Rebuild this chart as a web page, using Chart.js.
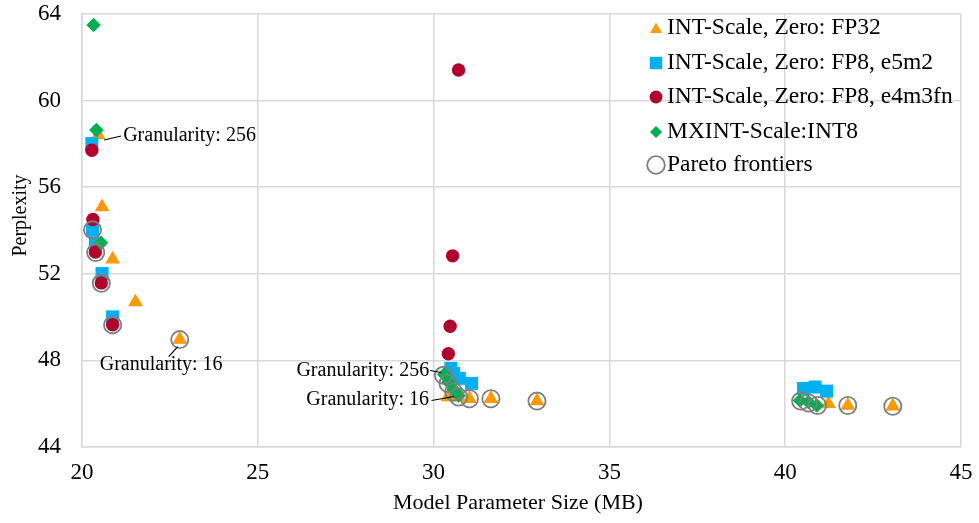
<!DOCTYPE html>
<html>
<head>
<meta charset="utf-8">
<title>Perplexity vs Model Parameter Size</title>
<script src="https://cdn.jsdelivr.net/npm/chart.js@4/dist/chart.umd.min.js"></script>
<style>
  html, body { margin: 0; padding: 0; background: #ffffff; }
  canvas { display: block; }
</style>
</head>
<body>
<canvas id="chart" width="979" height="523"></canvas>
<script>
// ---- data -------------------------------------------------------------
const seriesNames = [
  'INT-Scale, Zero: FP32',
  'INT-Scale, Zero: FP8, e5m2',
  'INT-Scale, Zero: FP8, e4m3fn',
  'MXINT-Scale:INT8',
  'Pareto frontiers'
];

const fp32X = [20.46, 20.57, 20.87, 21.52, 22.78, 30.41, 30.70, 31.02, 31.63, 32.94, 41.23, 41.78, 43.06];
const fp32Y = [58.41, 55.09, 52.67, 50.70, 48.96, 46.31, 46.30, 46.23, 46.23, 46.12, 46.00, 45.92, 45.88];

const e5m2X = [20.28, 20.30, 20.38, 20.57, 20.87, 30.49, 30.57, 30.73, 31.08, 40.52, 40.85, 41.18];
const e5m2Y = [58.02, 54.01, 53.41, 52.01, 50.01, 47.63, 47.40, 47.17, 46.94, 46.70, 46.77, 46.58];

const e4m3X = [20.28, 20.31, 20.38, 20.55, 20.87, 30.71, 30.54, 30.47, 30.42];
const e4m3Y = [57.71, 54.51, 53.01, 51.58, 49.65, 61.41, 52.83, 49.58, 48.31];

const mxintX = [20.33, 20.41, 20.54, 30.30, 30.42, 30.57, 30.71, 40.42, 40.66, 40.90];
const mxintY = [63.49, 58.64, 53.43, 47.35, 47.00, 46.65, 46.38, 46.15, 46.08, 45.92];

const paretoX = [20.30, 20.39, 20.55, 20.87, 22.78, 30.28, 30.41, 30.57, 30.71, 31.02, 31.63, 32.94, 40.44, 40.66, 40.92, 41.78, 43.06];
const paretoY = [54.03, 52.98, 51.56, 49.64, 48.96, 47.31, 46.93, 46.54, 46.31, 46.23, 46.23, 46.12, 46.12, 46.03, 45.92, 45.92, 45.88];

const xTicks = [20, 25, 30, 35, 40, 45];
const yTicks = [44, 48, 52, 56, 60, 64];

// callouts: label text and the data point each leader line points at
const calloutText = ['Granularity: 256', 'Granularity: 16', 'Granularity: 256', 'Granularity: 16'];
const calloutX = [20.46, 22.78, 30.30, 30.71];
const calloutY = [58.41, 48.96, 47.35, 46.38];

const xTitle = 'Model Parameter Size (MB)';
const yTitle = 'Perplexity';

// ---- styling -----------------------------------------------------------
const FONT = '"Liberation Serif", "Times New Roman", "DejaVu Serif", serif';
const GRID = '#d9d9d9';
const styles = [
  { color: '#ff9900', pointStyle: 'triangle', radius: 8.5, legendRadius: 6.8 },
  { color: '#00b0f0', pointStyle: 'rect', radius: 9.2, legendRadius: 8.8 },
  { color: '#b4002d', pointStyle: 'circle', radius: 6.7, legendRadius: 6.4 },
  { color: '#00b050', pointStyle: 'rectRot', radius: 7.3, legendRadius: 6.0 },
  { color: '#7f7f7f', pointStyle: 'circle', radius: 8.6, legendRadius: 8.8, hollow: true }
];

// pixel placement of each callout relative to its anchor point
const calloutLayout = [
  { l0: [6, 5], l1: [23, 1], t: [25, 1], align: 'left' },
  { l0: [-2, 7], l1: [-11, 17], t: [-80, 25], align: 'left' },
  { l0: [-14, -4], l1: [-3, -2], t: [-15, -4], align: 'right' },
  { l0: [-27, 5], l1: [-4.5, 1], t: [-29.5, 4], align: 'right' }
];

function toPoints(xs, ys) {
  return xs.map((x, i) => ({ x: x, y: ys[i] }));
}

const seriesX = [fp32X, e5m2X, e4m3X, mxintX, paretoX];
const seriesY = [fp32Y, e5m2Y, e4m3Y, mxintY, paretoY];

const datasets = seriesNames.map((name, i) => {
  const s = styles[i];
  return {
    label: name,
    data: toPoints(seriesX[i], seriesY[i]),
    pointStyle: s.pointStyle,
    pointRadius: s.radius,
    pointHoverRadius: s.radius,
    backgroundColor: s.hollow ? 'rgba(0,0,0,0)' : s.color,
    borderColor: s.color,
    borderWidth: s.hollow ? 1.8 : 0,
    // later series sit on top of earlier ones
    order: seriesNames.length - i
  };
});

function drawMarker(ctx, s, x, y, r) {
  ctx.save();
  ctx.fillStyle = s.hollow ? 'rgba(0,0,0,0)' : s.color;
  ctx.strokeStyle = s.color;
  ctx.lineWidth = s.hollow ? 1.8 : 0;
  if (Chart.helpers && Chart.helpers.drawPoint) {
    Chart.helpers.drawPoint(ctx, { pointStyle: s.pointStyle, radius: r, rotation: 0, borderWidth: s.hollow ? 1.8 : 0 }, x, y);
  } else {
    ctx.beginPath();
    ctx.arc(x, y, r, 0, Math.PI * 2);
    ctx.fill();
    if (s.hollow) ctx.stroke();
  }
  ctx.restore();
}

const overlayPlugin = {
  id: 'overlay',
  afterDraw(chart) {
    const ctx = chart.ctx;
    const xs = chart.scales.x;
    const ys = chart.scales.y;
    ctx.save();

    // axis titles
    ctx.fillStyle = '#000';
    ctx.textAlign = 'center';
    ctx.textBaseline = 'middle';
    ctx.font = '22px ' + FONT;
    ctx.fillText(xTitle, 518, 503);
    ctx.save();
    ctx.translate(21, 215.5);
    ctx.rotate(-Math.PI / 2);
    ctx.font = '20px ' + FONT;
    ctx.fillText(yTitle, 0, 0);
    ctx.restore();

    // callouts
    ctx.font = '20px ' + FONT;
    ctx.strokeStyle = '#000';
    ctx.lineWidth = 1.2;
    calloutText.forEach((txt, i) => {
      const px = xs.getPixelForValue(calloutX[i]);
      const py = ys.getPixelForValue(calloutY[i]);
      const L = calloutLayout[i];
      ctx.beginPath();
      ctx.moveTo(px + L.l0[0], py + L.l0[1]);
      ctx.lineTo(px + L.l1[0], py + L.l1[1]);
      ctx.stroke();
      ctx.textAlign = L.align;
      ctx.textBaseline = 'middle';
      ctx.fillText(txt, px + L.t[0], py + L.t[1]);
    });

    // legend
    const legendMarkerX = 656;
    const legendTextX = 667;
    const rowY = [28, 63, 97, 132, 165];
    ctx.font = '23.5px ' + FONT;
    ctx.textAlign = 'left';
    ctx.textBaseline = 'middle';
    seriesNames.forEach((name, i) => {
      const s = styles[i];
      const my = rowY[i] + (s.pointStyle === 'triangle' ? 1.5 : 0);
      drawMarker(ctx, s, legendMarkerX, my, s.legendRadius);
      ctx.fillStyle = '#000';
      ctx.fillText(name, legendTextX, rowY[i]);
    });

    ctx.restore();
  }
};

new Chart(document.getElementById('chart'), {
  type: 'scatter',
  data: { datasets: datasets },
  options: {
    responsive: false,
    animation: false,
    devicePixelRatio: 1,
    layout: { padding: { left: 0, right: 18, top: 14, bottom: 0 } },
    plugins: {
      legend: { display: false },
      tooltip: { enabled: false }
    },
    scales: {
      x: {
        type: 'linear',
        min: xTicks[0],
        max: xTicks[xTicks.length - 1],
        afterBuildTicks(scale) { scale.ticks = xTicks.map(v => ({ value: v })); },
        afterFit(scale) {
          scale.height = 76;
          scale.paddingLeft = 0;
          scale.paddingRight = 0;
        },
        ticks: {
          color: '#000',
          font: { family: FONT, size: 23 },
          padding: 12,
          maxRotation: 0
        },
        grid: { color: GRID, lineWidth: 1.5, drawTicks: false },
        border: { color: GRID, width: 1.5 }
      },
      y: {
        type: 'linear',
        min: yTicks[0],
        max: yTicks[yTicks.length - 1],
        afterBuildTicks(scale) { scale.ticks = yTicks.map(v => ({ value: v })); },
        afterFit(scale) {
          scale.width = 82;
          scale.paddingTop = 0;
          scale.paddingBottom = 0;
        },
        ticks: {
          color: '#000',
          font: { family: FONT, size: 23 },
          padding: 21
        },
        grid: { color: GRID, lineWidth: 1.5, drawTicks: false },
        border: { color: GRID, width: 1.5 }
      }
    }
  },
  plugins: [overlayPlugin]
});
</script>
</body>
</html>
